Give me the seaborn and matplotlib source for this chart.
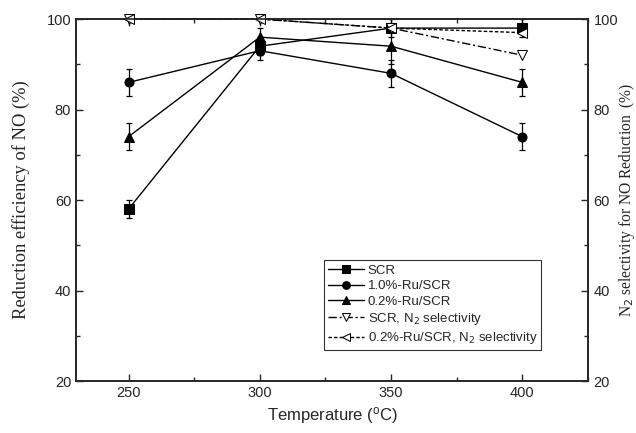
import pandas as pd
import matplotlib
matplotlib.use("Agg")
import matplotlib.pyplot as plt
import seaborn as sns
from matplotlib.ticker import MultipleLocator

# --------------------------------------------------
# Data
# --------------------------------------------------
temperature = [250, 300, 350, 400]

scr = [58, 94, 98, 98]
scr_err = [2, 2, 2, 2]

ru10 = [86, 93, 88, 74]
ru10_err = [3, 2, 3, 3]

ru02 = [74, 96, 94, 86]
ru02_err = [3, 2, 4, 3]

scr_n2 = [100, 100, 98, 92]
ru02_n2 = [100, 100, 98, 97]

sns.set_style("ticks")
plt.rcParams["font.family"] = ["Liberation Sans", "DejaVu Sans"]

fig = plt.figure(figsize=(6.36, 4.33), dpi=100)
ax = fig.add_axes([0.1195, 0.12, 0.805, 0.836])
ax2 = ax.twinx()

series = [
    ("SCR", scr, scr_err, "s"),
    ("1.0%-Ru/SCR", ru10, ru10_err, "o"),
    ("0.2%-Ru/SCR", ru02, ru02_err, "^"),
]

for label, vals, err, mk in series:
    df = pd.DataFrame({"T": temperature, "v": vals})
    sns.lineplot(data=df, x="T", y="v", ax=ax, color="black", lw=1.0,
                 marker=mk, markersize=6.5, markerfacecolor="black",
                 markeredgecolor="black", label=label, clip_on=False)
    ax.errorbar(temperature, vals, yerr=err, fmt="none", ecolor="black",
                elinewidth=0.9, capsize=2.5, capthick=0.9)

df = pd.DataFrame({"T": temperature, "v": scr_n2})
sns.lineplot(data=df, x="T", y="v", ax=ax2, color="black", lw=1.0,
             marker="v", markersize=6.5, markerfacecolor="white",
             markeredgecolor="black", linestyle=(0, (6, 2, 1.5, 2)),
             label="SCR, N$_2$ selectivity", clip_on=False)
df = pd.DataFrame({"T": temperature, "v": ru02_n2})
sns.lineplot(data=df, x="T", y="v", ax=ax2, color="black", lw=1.0,
             marker="<", markersize=6.5, markerfacecolor="white",
             markeredgecolor="black", linestyle=(0, (2.5, 1.5)),
             label="0.2%-Ru/SCR, N$_2$ selectivity", clip_on=False)

h1, l1 = ax.get_legend_handles_labels()
h2, l2 = ax2.get_legend_handles_labels()
if ax2.get_legend():
    ax2.get_legend().remove()
leg = ax.legend(h1 + h2, l1 + l2, loc="lower left",
                bbox_to_anchor=(0.485, 0.085), fontsize=9.5,
                handlelength=2.7, handletextpad=0.3, labelspacing=0.25,
                borderpad=0.3, frameon=True, fancybox=False,
                edgecolor="black", borderaxespad=0, markerscale=0.85)
leg.get_frame().set_linewidth(0.8)

for a in (ax, ax2):
    a.set_xlim(230, 425)
    a.set_ylim(20, 100)
    a.yaxis.set_major_locator(MultipleLocator(20))
    a.yaxis.set_minor_locator(MultipleLocator(10))
    for s in a.spines.values():
        s.set_linewidth(1.2)
        s.set_visible(True)

ax.set_xticks([250, 300, 350, 400])
ax.xaxis.set_minor_locator(MultipleLocator(25))
ax.tick_params(axis="both", which="both", direction="in", top=True,
               labelsize=10.5, width=1.0)
ax.tick_params(which="major", length=5)
ax.tick_params(which="minor", length=3)
ax2.tick_params(axis="y", which="both", direction="in", labelsize=10.5,
                width=1.0, pad=4)
ax2.tick_params(which="major", length=5)
ax2.tick_params(which="minor", length=3)

ax.set_xlabel("Temperature ($\\mathregular{^o}$C)", fontsize=12)
ax.set_ylabel("Reduction efficiency of NO (%)", fontsize=13.3,
              family=["Liberation Serif", "DejaVu Serif"])
ax.yaxis.set_label_coords(-0.09, 0.5)
ax2.set_ylabel("N$_2$ selectivity for NO Reduction  (%)", fontsize=11.2,
               family=["Liberation Serif", "DejaVu Serif"])
ax2.yaxis.set_label_coords(1.057, 0.5)

fig.savefig("out.png", dpi=100)
